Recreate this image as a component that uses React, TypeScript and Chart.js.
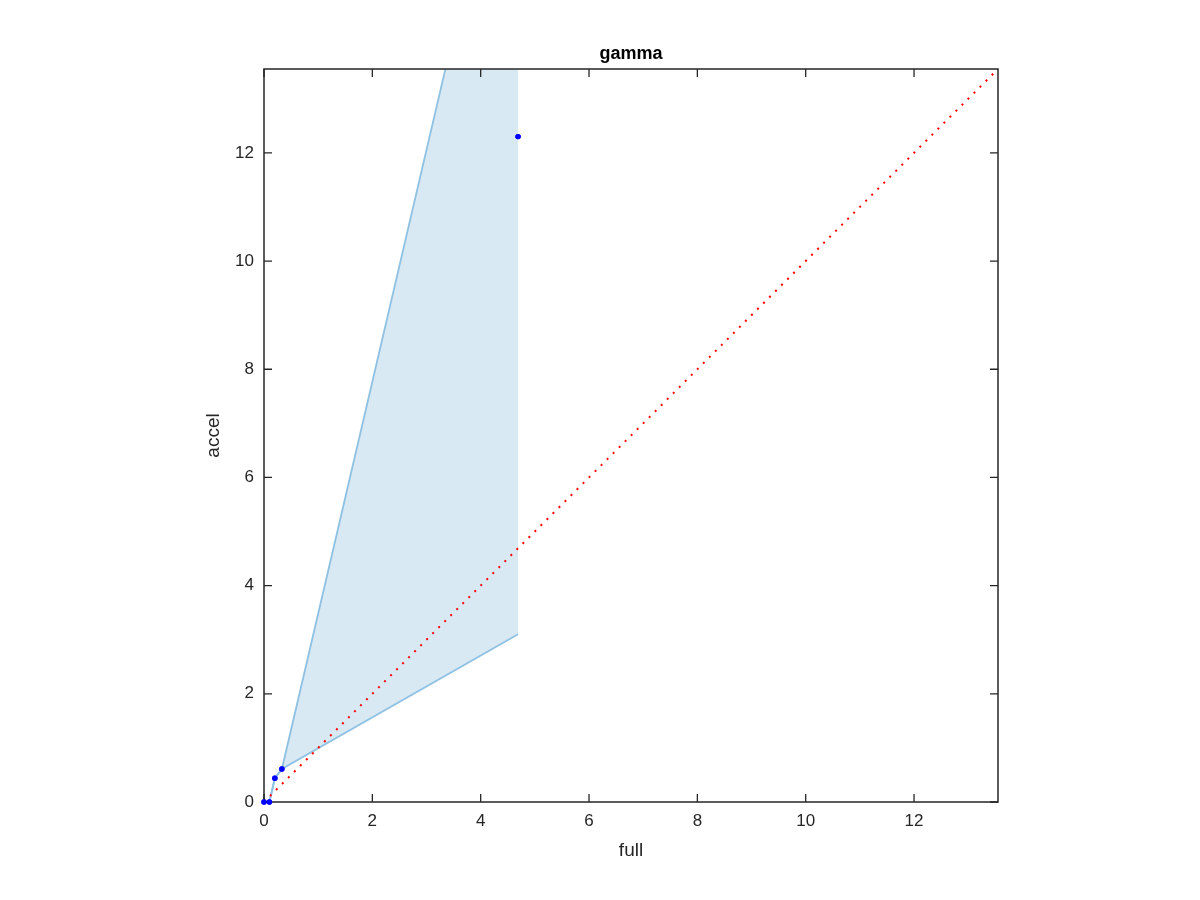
import React, { useEffect, useRef } from "react";
import { Chart, registerables } from "chart.js";

Chart.register(...registerables);

// Data
const bandX = [0, 0.1, 0.2, 0.33, 4.69];
const bandLower = [0, 0, 0.44, 0.61, 3.1];
const bandUpper = [0, 0, 0.44, 0.61, 19.3];
const pointX = [0, 0.1, 0.2, 0.33, 4.69];
const pointY = [0, 0, 0.44, 0.61, 12.3];
const diagX = [0, 13.55];
const diagY = [0, 13.55];
const tickValues = [0, 2, 4, 6, 8, 10, 12];
const axisMax = 13.55;

const titleText = "gamma";
const xLabel = "full";
const yLabel = "accel";

const FONT = "'Liberation Sans', Arial, Helvetica, sans-serif";
const AXIS_COLOR = "#262626";

const boxPlugin = {
  id: "matlabBox",
  afterDatasetsDraw(chart: any) {
    const { ctx, chartArea } = chart;
    const { left, right, top, bottom } = chartArea;
    const xs = chart.scales.x;
    const ys = chart.scales.y;
    ctx.save();
    ctx.strokeStyle = AXIS_COLOR;
    ctx.lineWidth = 1.5;
    ctx.beginPath();
    ctx.rect(left, top, right - left, bottom - top);
    ctx.stroke();
    const tl = 8;
    ctx.lineWidth = 1.3;
    ctx.beginPath();
    tickValues.forEach((v) => {
      const px = xs.getPixelForValue(v);
      ctx.moveTo(px, bottom);
      ctx.lineTo(px, bottom - tl);
      ctx.moveTo(px, top);
      ctx.lineTo(px, top + tl);
      const py = ys.getPixelForValue(v);
      ctx.moveTo(left, py);
      ctx.lineTo(left + tl, py);
      ctx.moveTo(right, py);
      ctx.lineTo(right - tl, py);
    });
    ctx.stroke();

    ctx.fillStyle = "#000";
    ctx.font = `bold 18px ${FONT}`;
    ctx.textAlign = "center";
    ctx.textBaseline = "alphabetic";
    ctx.fillText(titleText, (left + right) / 2, 59);

    ctx.fillStyle = AXIS_COLOR;
    ctx.font = `19px ${FONT}`;
    ctx.textBaseline = "alphabetic";
    ctx.fillText(xLabel, (left + right) / 2, 856);

    ctx.save();
    ctx.translate(219, (top + bottom) / 2);
    ctx.rotate(-Math.PI / 2);
    ctx.fillText(yLabel, 0, 0);
    ctx.restore();

    // blue markers drawn on top of the axes, as in the reference
    const meta = chart.getDatasetMeta(3);
    ctx.fillStyle = "#0000ff";
    meta.data.forEach((el: any) => {
      ctx.beginPath();
      ctx.arc(el.x, el.y, 2.7, 0, Math.PI * 2);
      ctx.fill();
    });
    ctx.restore();
  },
};

export default function App() {
  const ref = useRef<HTMLCanvasElement | null>(null);

  useEffect(() => {
    document.body.style.margin = "0";
    const canvas = ref.current;
    if (!canvas) return;
    const tickFont = { family: FONT, size: 17 };
    const fixTicks = (scale: any) => {
      scale.ticks = tickValues.map((v) => ({ value: v }));
    };
    const chart = new Chart(canvas, {
      type: "scatter",
      data: {
        datasets: [
          {
            label: "lower",
            data: bandX.map((x, i) => ({ x, y: bandLower[i] })),
            showLine: true,
            borderColor: "#8fc1e3",
            borderWidth: 1.8,
            pointRadius: 0,
            fill: false,
            order: 3,
          },
          {
            label: "upper",
            data: bandX.map((x, i) => ({ x, y: bandUpper[i] })),
            showLine: true,
            borderColor: "#8fc1e3",
            borderWidth: 1.8,
            backgroundColor: "#d9e9f4",
            pointRadius: 0,
            fill: "-1",
            order: 3,
          },
          {
            label: "diag",
            data: diagX.map((x, i) => ({ x, y: diagY[i] })),
            showLine: true,
            borderColor: "#ff0000",
            borderWidth: 2,
            borderDash: [2, 6.5],
            pointRadius: 0,
            fill: false,
            order: 2,
          },
          {
            label: "points",
            data: pointX.map((x, i) => ({ x, y: pointY[i] })),
            showLine: false,
            backgroundColor: "#0000ff",
            borderColor: "#0000ff",
            pointRadius: 2.7,
            pointBorderWidth: 0,
            clip: false,
            order: 1,
          },
        ],
      },
      options: {
        responsive: false,
        animation: false,
        devicePixelRatio: 1,
        layout: { padding: { left: 0, right: 202, top: 69, bottom: 0 } },
        plugins: {
          legend: { display: false },
          tooltip: { enabled: false },
          title: { display: false },
        },
        scales: {
          x: {
            type: "linear",
            min: 0,
            max: axisMax,
            grid: { display: false, drawTicks: false },
            border: { display: false },
            afterBuildTicks: fixTicks,
            afterFit: (scale: any) => {
              scale.height = 98;
            },
            ticks: {
              color: AXIS_COLOR,
              font: tickFont,
              padding: 9,
              maxRotation: 0,
              autoSkip: false,
            },
          },
          y: {
            type: "linear",
            min: 0,
            max: axisMax,
            grid: { display: false, drawTicks: false },
            border: { display: false },
            afterBuildTicks: fixTicks,
            afterFit: (scale: any) => {
              scale.width = 264;
            },
            ticks: {
              color: AXIS_COLOR,
              font: tickFont,
              padding: 10,
              autoSkip: false,
            },
          },
        },
      },
      plugins: [boxPlugin],
    });
    return () => chart.destroy();
  }, []);

  return <canvas ref={ref} width={1200} height={900} style={{ display: "block" }} />;
}
